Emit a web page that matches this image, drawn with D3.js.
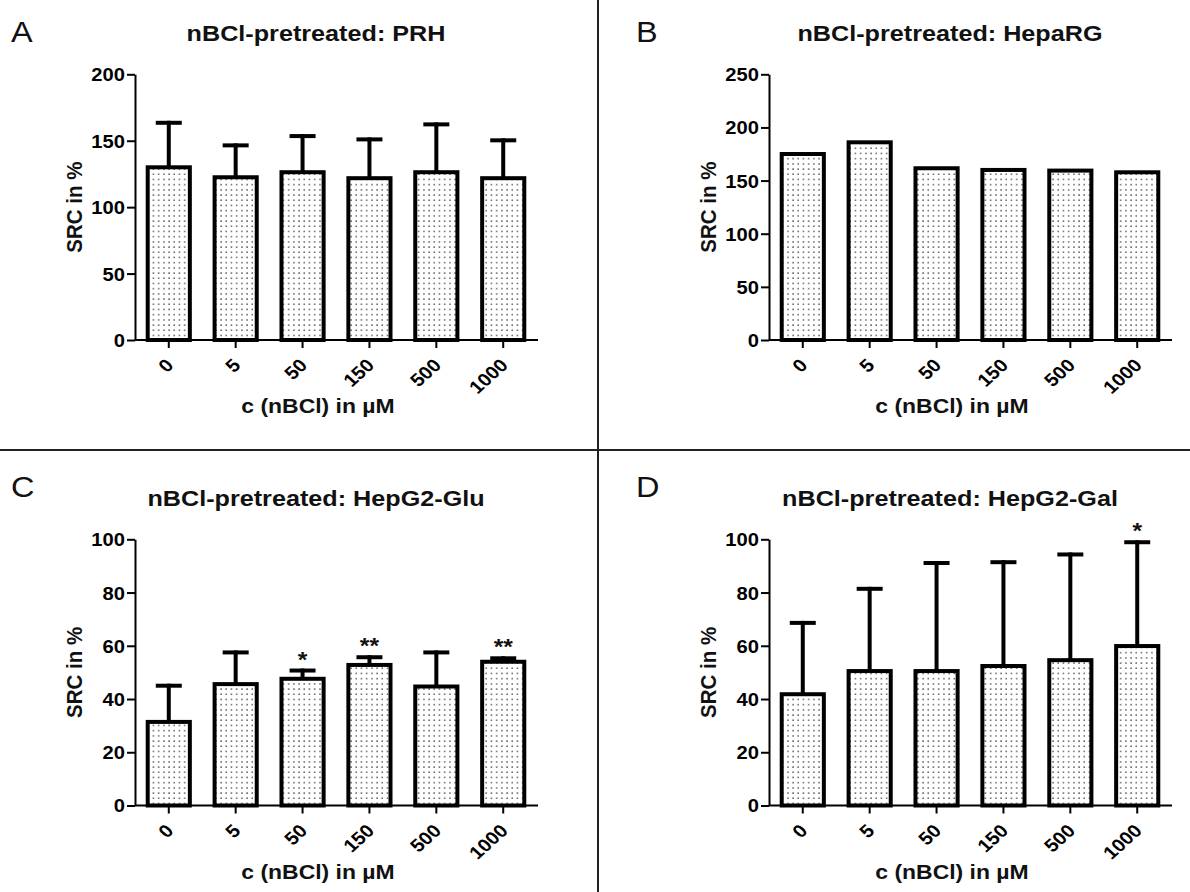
<!DOCTYPE html>
<html>
<head>
<meta charset="utf-8">
<script src="https://cdn.jsdelivr.net/npm/d3@7"></script>
<style>
  body { margin: 0; background: #fff; }
  svg { display: block; }
</style>
</head>
<body>
<script>
// Concentrations of nBCl (µM) shared by all four panels
const categories = ["0", "5", "50", "150", "500", "1000"];

// A: primary rat hepatocytes
const prhMean = [130, 122.5, 126.3, 121.8, 126.3, 121.8];
const prhSd   = [33.5, 24, 27.2, 29.2, 36, 28.5];
const prhTicks = [0, 50, 100, 150, 200];

// B: HepaRG (single measurement, no error bars)
const hepaRGMean = [175, 186, 161.6, 160, 159.4, 157.8];
const hepaRGTicks = [0, 50, 100, 150, 200, 250];

// C: HepG2 in glucose medium
const gluMean = [31.4, 45.6, 47.6, 52.8, 44.7, 54];
const gluSd   = [13.6, 11.9, 3.1, 2.9, 12.8, 1.3];
const gluSig  = ["", "", "*", "**", "", "**"];

// D: HepG2 in galactose medium
const galMean = [41.8, 50.5, 50.5, 52.4, 54.6, 59.9];
const galSd   = [26.8, 30.9, 40.6, 39, 39.7, 39];
const galSig  = ["", "", "", "", "", "*"];

const hepg2Ticks = [0, 20, 40, 60, 80, 100];

const W = 1190, H = 892;
const SX = 1.12;            // horizontal text stretch
const FONT = "'Liberation Sans', Arial, Helvetica, sans-serif";

const svg = d3.select("body").append("svg")
  .attr("width", W).attr("height", H)
  .style("font-family", FONT);

// dotted bar fill
const defs = svg.append("defs");
const pat = defs.append("pattern")
  .attr("id", "dots").attr("patternUnits", "userSpaceOnUse")
  .attr("width", 5.2).attr("height", 5.2);
pat.append("rect").attr("width", 5.2).attr("height", 5.2).attr("fill", "#fff");
pat.append("rect").attr("x", 2).attr("y", 2).attr("width", 1.4).attr("height", 1.4).attr("fill", "#444");

// panel separators
svg.append("line").attr("x1", 598).attr("x2", 598).attr("y1", 0).attr("y2", H)
  .attr("stroke", "#222").attr("stroke-width", 2);
svg.append("line").attr("x1", 0).attr("x2", W).attr("y1", 450).attr("y2", 450)
  .attr("stroke", "#222").attr("stroke-width", 2);

const panels = [
  { letter: "A", title: "nBCl-pretreated: PRH", mean: prhMean, sd: prhSd, sig: null,
    ticks: prhTicks, ox: 135, top: 74.3, base: 340, lx: 11, ly: 42 },
  { letter: "B", title: "nBCl-pretreated: HepaRG", mean: hepaRGMean, sd: null, sig: null,
    ticks: hepaRGTicks, ox: 769, top: 74.3, base: 340, lx: 636, ly: 42 },
  { letter: "C", title: "nBCl-pretreated: HepG2-Glu", mean: gluMean, sd: gluSd, sig: gluSig,
    ticks: hepg2Ticks, ox: 135, top: 539.3, base: 805.5, lx: 11, ly: 497 },
  { letter: "D", title: "nBCl-pretreated: HepG2-Gal", mean: galMean, sd: galSd, sig: galSig,
    ticks: hepg2Ticks, ox: 769, top: 539.3, base: 805.5, lx: 636, ly: 497 }
];

function stretched(sel, x, y, rot) {
  return sel.attr("transform",
    `translate(${x},${y}) scale(${SX},1)` + (rot ? ` rotate(${rot})` : ""));
}

panels.forEach(p => {
  const g = svg.append("g");
  const plotW = 402;

  const x = d3.scaleBand().domain(categories)
    .range([p.ox, p.ox + plotW]).paddingInner(0.37).paddingOuter(0.19);
  const y = d3.scaleLinear().domain([0, d3.max(p.ticks)]).range([p.base, p.top]);

  // panel letter
  stretched(g.append("text"), p.lx, p.ly)
    .attr("font-size", 29).attr("fill", "#111").text(p.letter);

  // title
  stretched(g.append("text"), p.ox + 181, p.top - 33)
    .attr("text-anchor", "middle").attr("font-size", 22.5).attr("font-weight", "bold")
    .attr("fill", "#111").text(p.title);

  // error bars (upper only)
  if (p.sd) {
    const eb = g.append("g").attr("stroke", "#000").attr("stroke-width", 4)
      .attr("stroke-linecap", "square");
    categories.forEach((c, i) => {
      const cx = x(c) + x.bandwidth() / 2;
      const yt = y(p.mean[i] + p.sd[i]);
      eb.append("line").attr("x1", cx).attr("x2", cx)
        .attr("y1", y(p.mean[i])).attr("y2", yt);
      eb.append("line").attr("x1", cx - 11).attr("x2", cx + 11)
        .attr("y1", yt).attr("y2", yt);
    });
  }

  // bars
  g.append("g").selectAll("rect").data(p.mean).join("rect")
    .attr("x", (d, i) => x(categories[i]))
    .attr("width", x.bandwidth())
    .attr("y", d => y(d))
    .attr("height", d => y(0) - y(d))
    .attr("fill", "url(#dots)")
    .attr("stroke", "#000").attr("stroke-width", 4);

  // significance marks
  if (p.sig) {
    categories.forEach((c, i) => {
      if (!p.sig[i]) return;
      const cx = x(c) + x.bandwidth() / 2;
      const top = p.sd ? p.mean[i] + p.sd[i] : p.mean[i];
      stretched(g.append("text"), cx, y(top) - 4)
        .attr("text-anchor", "middle").attr("font-size", 22).attr("font-weight", "bold")
        .attr("fill", "#111").text(p.sig[i]);
    });
  }

  // y axis
  const ya = g.append("g").attr("transform", `translate(${p.ox},0)`)
    .call(d3.axisLeft(y).tickValues(p.ticks).tickSize(8).tickSizeOuter(0));
  ya.select(".domain").attr("stroke", "#000").attr("stroke-width", 2);
  ya.selectAll(".tick line").attr("stroke", "#000").attr("stroke-width", 2);
  ya.selectAll(".tick text")
    .attr("x", null).attr("dy", "0.36em")
    .attr("transform", `translate(-10,0) scale(${SX},1)`)
    .attr("font-size", 18).attr("font-weight", "bold")
    .attr("font-family", FONT).attr("fill", "#000");

  // x axis
  const xa = g.append("g").attr("transform", `translate(0,${p.base})`)
    .call(d3.axisBottom(x).tickSize(8).tickSizeOuter(0));
  xa.select(".domain").attr("stroke", "#000").attr("stroke-width", 2)
    .attr("d", `M${p.ox},0H${p.ox + plotW + 1}`);
  xa.selectAll(".tick line").attr("stroke", "#000").attr("stroke-width", 2);
  xa.selectAll(".tick text")
    .attr("y", null).attr("dy", "0.35em")
    .attr("transform", `translate(1,22) scale(${SX},1) rotate(-45)`)
    .attr("text-anchor", "end")
    .attr("font-size", 18).attr("font-weight", "bold")
    .attr("font-family", FONT).attr("fill", "#000");

  // axis titles
  stretched(g.append("text"), p.ox - 53, (p.top + p.base) / 2, -90)
    .attr("text-anchor", "middle").attr("font-size", 20.5).attr("font-weight", "bold")
    .attr("fill", "#111").text("SRC in %");
  stretched(g.append("text"), p.ox + 183, p.base + 73)
    .attr("text-anchor", "middle").attr("font-size", 20.5).attr("font-weight", "bold")
    .attr("fill", "#111").text("c (nBCl) in µM");
});
</script>
</body>
</html>
